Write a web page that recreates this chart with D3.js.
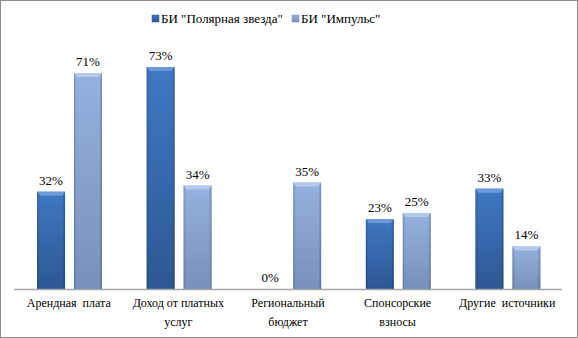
<!DOCTYPE html>
<html><head><meta charset="utf-8">
<script src="https://cdn.jsdelivr.net/npm/d3@7"></script>
<style>body{margin:0;background:#fff}svg{display:block}</style>
</head><body>
<svg id="c" width="578" height="338"></svg>
<script>
const categories = [["Арендная  плата"], ["Доход от платных", "услуг"], ["Региональный", "бюджет"], ["Спонсорские", "взносы"], ["Другие  источники"]];
const seriesNames = ['БИ "Полярная звезда"', 'БИ "Импульс"'];
const polar = [32, 73, 0, 23, 33];
const impuls = [71, 34, 35, 25, 14];

const svg = d3.select("#c");
const W = 578, H = 338;
const FF = "Liberation Serif";

svg.append("rect").attr("x", 0.5).attr("y", 0.5).attr("width", W - 1).attr("height", H - 1)
  .attr("fill", "#fff").attr("stroke", "#8c8c8c").attr("stroke-width", 1);

const defs = svg.append("defs");
function grad(id, c1, c2) {
  const g = defs.append("linearGradient").attr("id", id).attr("x1", 0).attr("y1", 0).attr("x2", 0).attr("y2", 1);
  g.append("stop").attr("offset", "0%").attr("stop-color", c1);
  g.append("stop").attr("offset", "100%").attr("stop-color", c2);
}
grad("g0", "#3f78c3", "#2d5893");
grad("g1", "#96b1de", "#7890bb");
const side = defs.append("linearGradient").attr("id", "side").attr("x1", 0).attr("y1", 0).attr("x2", 1).attr("y2", 0);
side.append("stop").attr("offset", "0%").attr("stop-color", "#000").attr("stop-opacity", 0.18);
side.append("stop").attr("offset", "10%").attr("stop-color", "#000").attr("stop-opacity", 0);
side.append("stop").attr("offset", "90%").attr("stop-color", "#000").attr("stop-opacity", 0);
side.append("stop").attr("offset", "100%").attr("stop-color", "#000").attr("stop-opacity", 0.22);

const x0 = d3.scaleBand().domain(d3.range(categories.length)).range([14, 562]);
const x1 = d3.scaleBand().domain([0, 1]).range([23, 88]).paddingInner(0.24);
const y = d3.scaleLinear().domain([0, 73]).range([289, 67]);

const data = [polar, impuls];
const fills = ["url(#g0)", "url(#g1)"];
const tops = ["#6c9ad8", "#b5caea"];

data.forEach((vals, s) => {
  vals.forEach((v, i) => {
    const bx = x0(i) + x1(s), bw = x1.bandwidth();
    const by = y(v), bh = y(0) - y(v);
    if (bh > 0) {
      svg.append("rect").attr("x", bx).attr("y", by).attr("width", bw).attr("height", bh).attr("fill", fills[s]);
      svg.append("rect").attr("x", bx).attr("y", by).attr("width", bw).attr("height", bh).attr("fill", "url(#side)");
      svg.append("path").attr("d", `M${bx},${by}L${bx + bw},${by}L${bx + bw - 3},${by + 4}L${bx + 3},${by + 4}Z`)
        .attr("fill", tops[s]);
    }
    svg.append("text").attr("x", bx + bw / 2).attr("y", by - 7).attr("text-anchor", "middle")
      .attr("font-family", FF).attr("font-size", 13).attr("fill", "#000").text(v + "%");
  });
});

svg.append("line").attr("x1", 14).attr("x2", 562).attr("y1", 289.5).attr("y2", 289.5)
  .attr("stroke", "#a6a6a6").attr("stroke-width", 1.5);

categories.forEach((lines, i) => {
  const t = svg.append("text").attr("x", x0(i) + x0.bandwidth() / 2).attr("y", 307)
    .attr("text-anchor", "middle").attr("font-family", FF).attr("font-size", 12).attr("fill", "#000")
    .attr("xml:space", "preserve").style("white-space", "pre");
  lines.forEach((l, k) => t.append("tspan").attr("x", x0(i) + x0.bandwidth() / 2).attr("dy", k ? 18.5 : 0).text(l));
});

// legend
const legX = [152, 292];
const legStroke = ["#2d5893", "#7890bb"];
seriesNames.forEach((n, s) => {
  svg.append("rect").attr("x", legX[s]).attr("y", 15).attr("width", 7).attr("height", 7)
    .attr("fill", fills[s]).attr("stroke", legStroke[s]).attr("stroke-width", 0.5);
  svg.append("text").attr("x", legX[s] + 9).attr("y", 23).attr("font-family", FF).attr("font-size", 13)
    .attr("fill", "#000").text(n);
});
</script>
</body></html>
